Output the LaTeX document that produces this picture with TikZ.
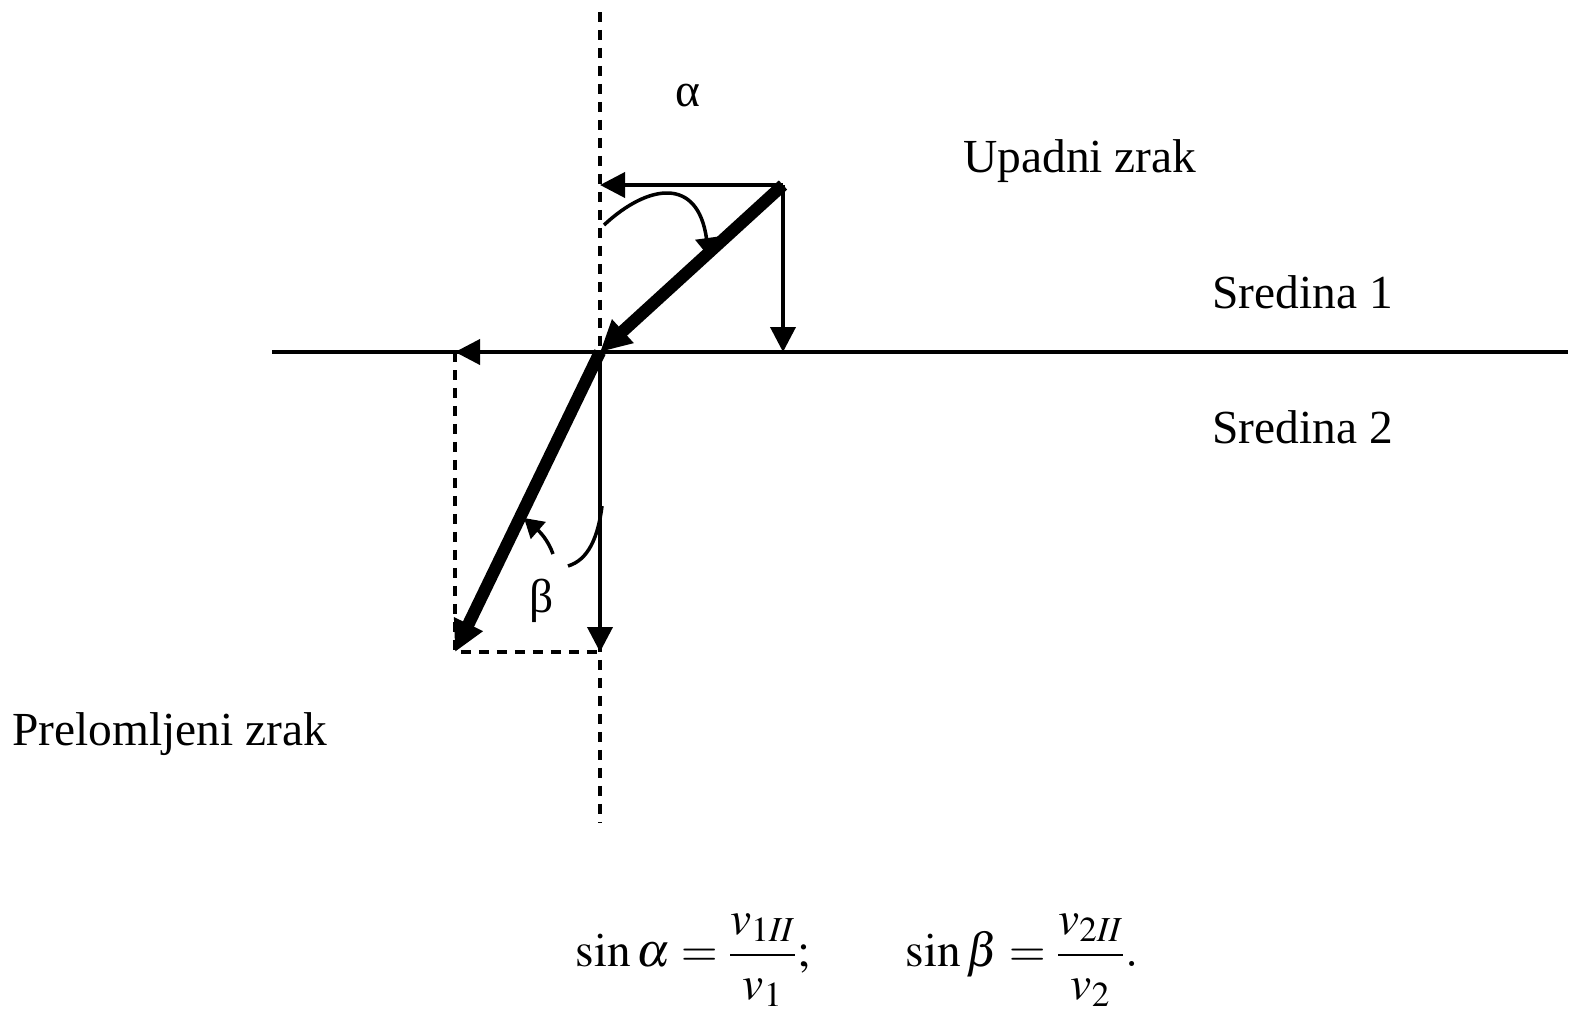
\documentclass[tikz,border=0pt]{standalone}
\usepackage{mathptmx}
\usepackage[no-math]{fontspec}
\setmainfont{Liberation Serif}
\usetikzlibrary{arrows.meta}
\tikzset{
  comparr/.style  = {-{Triangle[length=0.5cm,width=0.5cm]}, line width=2.2pt},
  rayarr/.style   = {-{Triangle[length=0.62cm,width=0.6cm]}, line width=7pt},
  normline/.style = {line width=2pt, dash pattern=on 0.2cm off 0.16cm},
  arcline/.style  = {line width=2pt},
  arctip/.style   = {-{Triangle[length=0.38cm,width=0.44cm]}},
  lbl/.style      = {anchor=base west, inner sep=0pt, font=\fontsize{27}{31}\selectfont}
}

\begin{document}
\begin{tikzpicture}[x=0.02cm,y=-0.02cm]
  \useasboundingbox (0,0) rectangle (1579,1014);
  % points of the construction
  \coordinate (O)  at (600,352);
  \coordinate (P)  at (783,185);
  \coordinate (Px) at (600,185);
  \coordinate (Py) at (783,352);
  \coordinate (R)  at (455,652);
  \coordinate (Rx) at (455,352);
  \coordinate (Ry) at (600,652);
  \coordinate (ntop) at (600,12);
  \coordinate (nbot) at (600,822);
  \coordinate (sleft)  at (272,352);
  \coordinate (sright) at (1568,352);
  % surface and normal
  \draw[line width=2.2pt] (sleft) -- (sright);
  \draw[normline] (ntop) -- (nbot);
  \draw[normline] (Rx) -- (R) -- (Ry);
  % components
  \draw[comparr] (P) -- (Px);
  \draw[comparr] (P) -- (Py);
  \draw[comparr] (O) -- (Rx);
  \draw[comparr] (O) -- (Ry);
  % rays
  \draw[rayarr] (P) -- (O);
  \draw[rayarr] (O) -- (R);
  % angles
  \draw[arcline,arctip] (604,225) .. controls (648,184) and (698,176) .. (709,257);
  \draw[arcline] (602,506) .. controls (598,538) and (588,560) .. (568,566);
  \draw[arcline,arctip] (553,554) .. controls (548,540) and (540,532) .. (524,518);
  % labels
  \node[lbl] (alphalbl) at (675,106) {α};
  \node[lbl] (betalbl) at (529,612) {β};
  \node[lbl] (upadni) at (963,172) {Upadni zrak};
  \node[lbl] (sredina1) at (1212,308) {Sredina 1};
  \node[lbl] (sredina2) at (1212,443) {Sredina 2};
  \node[lbl] (prelomljeni) at (12,745) {Prelomljeni zrak};
  \node[inner sep=0pt,font=\fontsize{27}{31}\selectfont] (formula) at (857,960)
    {$\displaystyle \sin\alpha=\frac{v_{1\mathit{II}}}{v_1};\hspace{1.9em}
      \sin\beta=\frac{v_{2\mathit{II}}}{v_2}.$};
\end{tikzpicture}
\end{document}
